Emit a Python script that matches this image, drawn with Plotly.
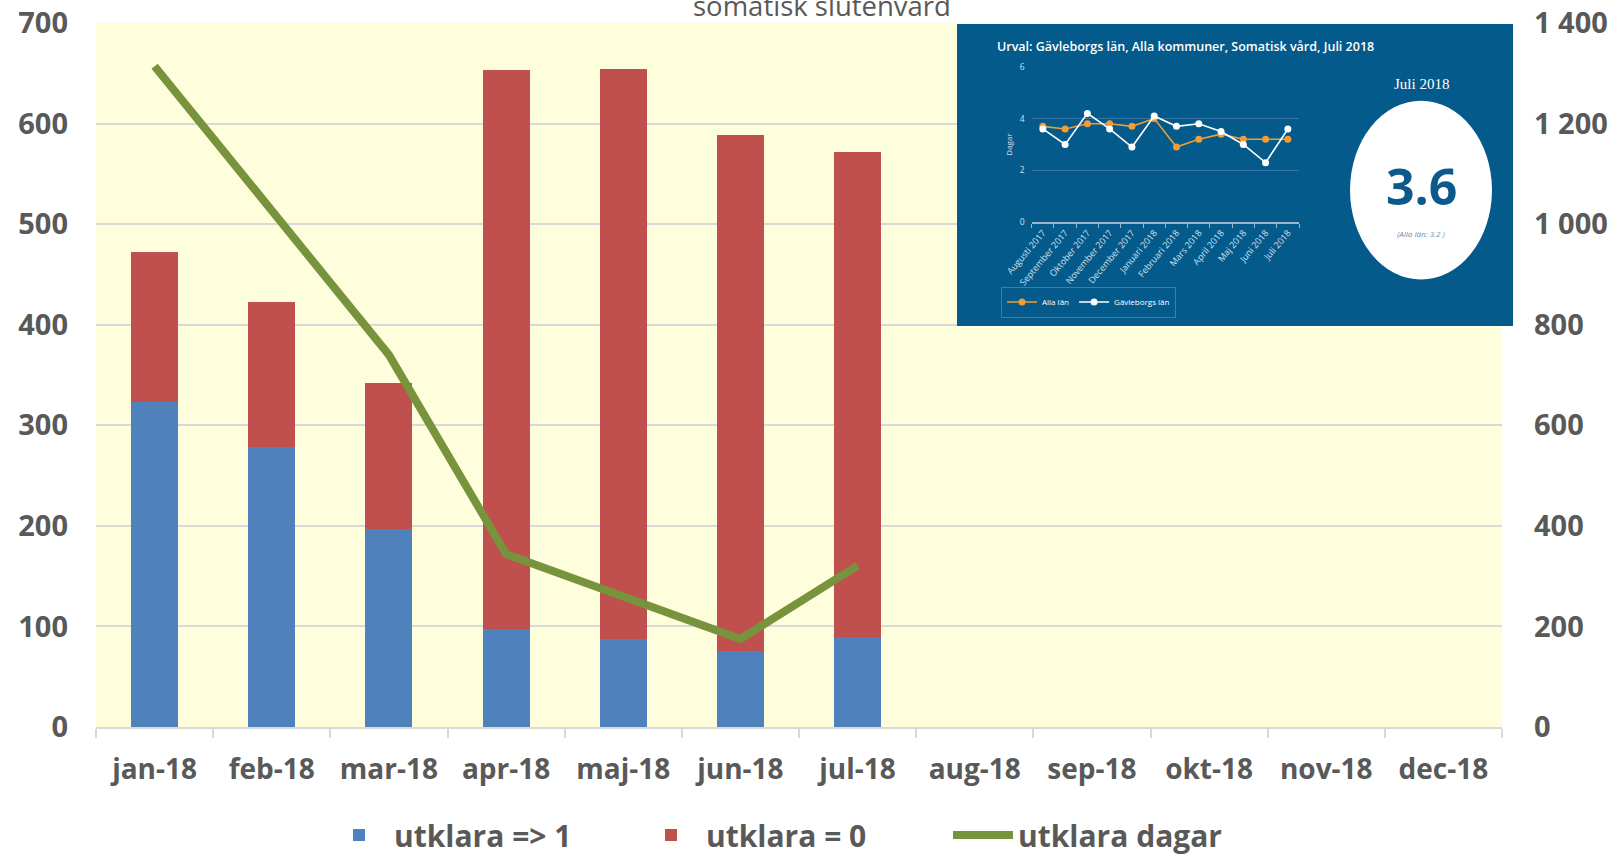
import plotly.graph_objects as go

# ---------------- data ----------------
months = ["jan-18", "feb-18", "mar-18", "apr-18", "maj-18", "jun-18",
          "jul-18", "aug-18", "sep-18", "okt-18", "nov-18", "dec-18"]
data_months = months[:7]
utklara_ge1 = [323, 278, 197, 97, 88, 76, 89]
utklara_0 = [149, 145, 145, 556, 566, 513, 483]
utklara_dagar = [1314, 1030, 740, 344, 261, 175, 321]

inset_months = ["Augusti 2017", "September 2017", "Oktober 2017", "November 2017",
                "December 2017", "Januari 2018", "Februari 2018", "Mars 2018",
                "April 2018", "Maj 2018", "Juni 2018", "Juli 2018"]
alla_lan = [3.7, 3.6, 3.8, 3.8, 3.7, 4.0, 2.9, 3.2, 3.4, 3.2, 3.2, 3.2]
gavleborgs_lan = [3.6, 3.0, 4.2, 3.6, 2.9, 4.1, 3.7, 3.8, 3.5, 3.0, 2.3, 3.6]

W, H = 1611, 857
ML, MR, MT, MB = 96, 109, 23, 130
PW, PH = W - ML - MR, H - MT - MB


def px(xp):
    return (xp - ML) / PW


def py(yp):
    return (H - MB - yp) / PH


GREY = "#595959"
INSET_BG = "#045A8B"

fig = go.Figure()

fig.add_trace(go.Bar(x=data_months, y=utklara_ge1, name="utklara => 1",
                     marker=dict(color="#4F81BD", line=dict(width=0)), width=0.4))
fig.add_trace(go.Bar(x=data_months, y=utklara_0, name="utklara = 0",
                     marker=dict(color="#C0504D", line=dict(width=0)), width=0.4))
fig.add_trace(go.Scatter(x=data_months, y=utklara_dagar, name="utklara dagar",
                         mode="lines", yaxis="y2",
                         line=dict(color="#77933C", width=8)))

# inset background holder (empty subplot x3y3)
fig.add_trace(go.Scatter(x=[], y=[], xaxis="x3", yaxis="y3", showlegend=False,
                         hoverinfo="skip"))

# inset mini chart
fig.add_trace(go.Scatter(x=inset_months, y=alla_lan, name="Alla län",
                         xaxis="x4", yaxis="y4", mode="lines+markers",
                         line=dict(color="#F39C33", width=1.6),
                         marker=dict(color="#F39C33", size=7), legend="legend2"))
fig.add_trace(go.Scatter(x=inset_months, y=gavleborgs_lan, name="Gävleborgs län",
                         xaxis="x4", yaxis="y4", mode="lines+markers",
                         line=dict(color="#FFFFFF", width=1.6),
                         marker=dict(color="#FFFFFF", size=7), legend="legend2"))

# inset geometry (pixels)
ix0, ix1, iy0, iy1 = 957, 1513, 24, 326
cx0, cx1, cy_top, cy_bot = 1031.7, 1299, 66.7, 222.3

fig.update_layout(
    width=W, height=H,
    margin=dict(l=ML, r=MR, t=MT, b=MB, autoexpand=False),
    paper_bgcolor="white",
    plot_bgcolor="rgba(0,0,0,0)",
    barmode="stack",
    separators=", ",
    showlegend=True,
    xaxis=dict(
        type="category", categoryorder="array", categoryarray=months,
        range=[-0.5, 11.5], showgrid=False, zeroline=False,
        showline=True, linecolor="#D9D9D9", linewidth=2,
        ticks="outside", tickson="boundaries", ticklen=9, tickwidth=2,
        tickcolor="#D9D9D9",
        tickfont=dict(family="Open Sans", size=28, weight="bold", color=GREY),
        ticklabelstandoff=16,
        tickvals=months, ticktext=months,
    ),
    yaxis=dict(
        range=[0, 700], dtick=100, tick0=0, showgrid=True, gridcolor="#D9D9D9",
        gridwidth=2, zeroline=False, showline=False, ticks="",
        tickfont=dict(family="Open Sans", size=29, weight="bold", color=GREY),
        ticklabelstandoff=27,
    ),
    yaxis2=dict(
        range=[0, 1400], dtick=200, tick0=0, overlaying="y", side="right",
        showgrid=False, zeroline=False, showline=False, ticks="",
        tickformat=",d",
        tickfont=dict(family="Open Sans", size=29, weight="bold", color=GREY),
        ticklabelstandoff=31,
    ),
    xaxis3=dict(domain=[px(ix0), 1.0], range=[0, 1], anchor="y3",
                visible=False, fixedrange=True),
    yaxis3=dict(domain=[py(iy1), min(1.0, py(iy0))], range=[0, 1], anchor="x3",
                visible=False, fixedrange=True),
    xaxis4=dict(domain=[px(cx0), px(cx1)], anchor="y4", type="category",
                range=[-0.5, 11.5], showgrid=False, zeroline=False,
                showline=True, linecolor="#9DB7CF", linewidth=1.5,
                ticks="outside", tickson="boundaries", ticklen=4,
                tickcolor="#9DB7CF", tickangle=-50,
                tickfont=dict(family="Open Sans", size=9, color="#D5E0EA"),
                fixedrange=True),
    yaxis4=dict(domain=[py(cy_bot), py(cy_top)], anchor="x4", range=[0, 6],
                dtick=2, tick0=0, showgrid=True, gridcolor="#3777A6",
                gridwidth=1.2, zeroline=False, showline=False, ticks="",
                tickfont=dict(family="Open Sans", size=8.5, color="#D5E0EA"),
                ticklabelstandoff=6,
                title=dict(text="Dagar", standoff=6,
                           font=dict(family="Open Sans", size=8, color="#D5E0EA")),
                fixedrange=True),
    legend=dict(
        orientation="h", x=px(324), xanchor="left", y=py(861), yanchor="bottom",
        font=dict(family="Open Sans", size=30, weight="bold", color=GREY),
        bgcolor="rgba(0,0,0,0)", entrywidth=237, itemwidth=60,
        traceorder="normal", borderwidth=0,
    ),
    legend2=dict(
        orientation="h", x=px(1001), xanchor="left", y=py(302), yanchor="middle",
        font=dict(family="Open Sans", size=8, color="white"),
        bgcolor="rgba(0,0,0,0)", bordercolor="#3D7DAA", borderwidth=1,
        itemwidth=30, tracegroupgap=0,
    ),
    shapes=[
        # main plot background
        dict(type="rect", xref="paper", yref="paper", x0=0, x1=1, y0=0, y1=1,
             fillcolor="#FFFEDC", line=dict(width=0), layer="below"),
        # inset panel background (full extent, below everything)
        dict(type="rect", xref="paper", yref="paper",
             x0=px(ix0), x1=px(ix1), y0=py(iy1), y1=py(iy0),
             fillcolor=INSET_BG, line=dict(width=0), layer="below"),
        # inset panel background over the main gridlines
        dict(type="rect", xref="x3", yref="y3", x0=0, x1=1, y0=0, y1=1,
             fillcolor=INSET_BG, line=dict(width=0), layer="below"),
        # white circle
        dict(type="circle", xref="paper", yref="paper",
             x0=px(1350), x1=px(1492), y0=py(279.5), y1=py(100.7),
             fillcolor="white", line=dict(width=0), layer="above"),
    ],
    annotations=[
        dict(text="somatisk slutenvård", xref="paper", yref="paper",
             x=px(822), y=py(5.5), xanchor="center", yanchor="middle",
             showarrow=False,
             font=dict(family="Open Sans", size=27.5, color=GREY)),
        dict(text="Urval: Gävleborgs län, Alla kommuner, Somatisk vård, Juli 2018",
             xref="paper", yref="paper", x=px(995), y=py(46),
             xanchor="left", yanchor="middle", showarrow=False,
             font=dict(family="Open Sans", size=12.5, weight=600, color="white")),
        dict(text="Juli 2018", xref="paper", yref="paper", x=px(1421), y=py(84),
             xanchor="center", yanchor="middle", showarrow=False,
             font=dict(family="Liberation Serif", size=15, color="white")),
        dict(text="<b>3.6</b>", xref="paper", yref="paper", x=px(1421), y=py(186),
             xanchor="center", yanchor="middle", showarrow=False,
             font=dict(family="Open Sans", size=50, color="#0B5A8B")),
        dict(text="<i>(Alla län: 3.2 )</i>", xref="paper", yref="paper",
             x=px(1421), y=py(233), xanchor="center", yanchor="middle",
             showarrow=False,
             font=dict(family="Open Sans", size=8, color="#6E8FB6")),
    ],
)

fig.write_html(
    "out.html",
    config={"displayModeBar": False},
    post_script="document.body.style.margin='0';"
                "document.documentElement.style.overflow='hidden';",
)
